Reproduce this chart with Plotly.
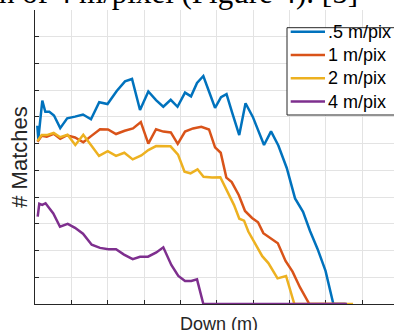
import plotly.graph_objects as go

# Data (grid units)
blue_x = [0.063, 0.091, 0.201, 0.284, 0.394, 0.523, 0.694, 0.886, 1.101, 1.321, 1.541, 1.767, 1.996,
          2.249, 2.477, 2.670, 2.890, 3.119, 3.331, 3.531, 3.735, 3.922, 4.129, 4.294, 4.459, 4.633,
          4.789, 4.955, 5.120, 5.271, 5.428, 5.621, 5.794, 5.995, 6.303, 6.496, 6.697, 6.928, 7.157,
          7.377, 7.569, 7.776, 7.996, 8.211, 8.55]
blue_y = [6.67, 6.17, 7.61, 7.19, 7.19, 7.05, 6.58, 6.95, 7.01, 7.09, 6.91, 7.55, 7.48,
          7.97, 8.33, 8.42, 7.26, 7.95, 7.63, 7.38, 7.64, 7.38, 7.91, 7.77, 8.27, 8.53,
          7.95, 7.34, 7.74, 7.85, 7.15, 6.32, 7.51, 7.00, 5.95, 6.46, 5.93, 5.09, 3.95,
          3.45, 2.73, 2.06, 1.24, 0.0, 0.0]

orange_x = [0.069, 0.184, 0.322, 0.515, 0.694, 0.873, 1.101, 1.329, 1.561, 1.789, 2.009, 2.230,
            2.469, 2.697, 2.912, 3.119, 3.331, 3.531, 3.738, 3.928, 4.129, 4.349, 4.577, 4.789,
            4.955, 5.111, 5.266, 5.414, 5.607, 5.780, 5.973, 6.138, 6.284, 6.477, 6.683, 6.895,
            7.088, 7.294, 7.550, 8.55]
orange_y = [6.07, 6.29, 6.26, 6.37, 6.18, 6.31, 6.23, 6.05, 6.30, 6.54, 6.53, 6.36,
            6.48, 6.57, 6.81, 6.00, 6.54, 6.45, 6.42, 5.99, 6.45, 6.57, 6.63, 6.53,
            5.86, 5.66, 4.73, 4.56, 4.08, 3.48, 3.22, 3.06, 2.65, 2.48, 2.27, 1.61,
            1.21, 0.62, 0.0, 0.0]

yellow_x = [0.069, 0.184, 0.322, 0.515, 0.694, 0.895, 1.109, 1.329, 1.550, 1.762, 2.001, 2.230,
            2.458, 2.689, 2.926, 3.119, 3.331, 3.531, 3.730, 3.936, 4.115, 4.280, 4.473, 4.638,
            4.872, 5.100, 5.285, 5.478, 5.623, 5.753, 5.871, 6.069, 6.254, 6.422, 6.675, 6.909,
            7.137, 8.753]
yellow_y = [6.10, 6.32, 6.32, 6.40, 6.24, 6.33, 5.95, 6.33, 5.93, 5.54, 5.72, 5.54,
            5.66, 5.41, 5.56, 5.76, 5.91, 5.91, 5.90, 5.59, 4.95, 4.89, 5.04, 4.76,
            4.73, 4.74, 4.21, 3.70, 3.19, 3.12, 2.71, 2.22, 1.79, 1.53, 0.96, 1.05,
            0.0, 0.0]

purple_x = [0.074, 0.118, 0.200, 0.290, 0.504, 0.688, 0.900, 1.101, 1.321, 1.561, 1.789, 2.018,
            2.230, 2.450, 2.689, 2.890, 3.110, 3.339, 3.531, 3.752, 3.944, 4.129, 4.302, 4.459,
            4.633, 8.588]
purple_y = [3.27, 3.75, 3.71, 3.77, 3.39, 2.89, 3.00, 2.85, 2.63, 2.22, 2.10, 2.05,
            2.05, 1.85, 1.68, 1.77, 1.77, 1.93, 2.12, 1.46, 1.05, 0.86, 0.86, 0.92,
            0.0, 0.0]

names = [".5 m/pix", "1 m/pix", "2 m/pix", "4 m/pix"]
colors = ["#0072BD", "#D95319", "#EDB120", "#7E2F8E"]
series = [(blue_x, blue_y), (orange_x, orange_y), (yellow_x, yellow_y), (purple_x, purple_y)]

W, H = 394, 330
ML, MR, MT, MB = 35, 0, 10, 26
PW, PH = W - ML - MR, H - MT - MB


def px(x):
    return (x - ML) / PW


def py(y):
    return (H - MB - y) / PH


fig = go.Figure()
for (xs, ys), n, c in zip(series, names, colors):
    fig.add_trace(go.Scatter(x=xs, y=ys, mode="lines", name=n,
                             line=dict(color=c, width=2.5), cliponaxis=False))

axis_common = dict(showgrid=True, gridcolor="#E3E3E3", gridwidth=1, zeroline=False,
                   showline=True, linecolor="#262626", linewidth=1.2,
                   ticks="inside", ticklen=4, tickcolor="#262626", tickwidth=1,
                   showticklabels=False, dtick=1, tick0=0, layer="below traces")

fig.update_layout(
    width=W, height=H,
    margin=dict(l=ML, r=MR, t=MT, b=MB),
    paper_bgcolor="white", plot_bgcolor="white",
    font=dict(family="Liberation Sans, Arial, sans-serif", size=18, color="#262626"),
    xaxis=dict(range=[0, 9.88], **axis_common),
    yaxis=dict(range=[0, 11], title=dict(text="# Matches", standoff=0), **axis_common),
    showlegend=False,
)

# x-axis title (centred on the full, cropped axes)
fig.add_annotation(text="Down (m)", xref="paper", yref="paper", x=px(219), y=py(312.5),
                   xanchor="center", yanchor="top", showarrow=False, borderpad=0,
                   font=dict(size=18, color="#262626"))

# Legend box (drawn by hand; its right edge is cropped like in the reference)
lg_left, lg_top, lg_right, lg_bottom = 287, 27.7, 402, 115
fig.add_shape(type="rect", xref="paper", yref="paper",
              x0=px(lg_left), x1=px(lg_right), y0=py(lg_bottom), y1=py(lg_top),
              line=dict(color="#262626", width=1), fillcolor="white", layer="above")
row_y = [31.7, 55.0, 78.3, 101.6]
for n, c, ry in zip(names, colors, row_y):
    fig.add_shape(type="line", xref="paper", yref="paper",
                  x0=px(290.7), x1=px(325), y0=py(ry), y1=py(ry),
                  line=dict(color=c, width=2.5), layer="above")
    fig.add_annotation(text=n, xref="paper", yref="paper", x=px(327), y=py(ry),
                       xanchor="left", yanchor="middle", showarrow=False, borderpad=0,
                       font=dict(size=18, color="black"))

# Cropped line of text from the page above the chart
fig.add_annotation(text="n of 4 m/pixel (Figure 4). [5]", xref="paper", yref="paper",
                   x=px(-2), y=py(11), xanchor="left", yanchor="bottom", showarrow=False,
                   borderpad=0, font=dict(family="Liberation Serif, Times New Roman, serif",
                                          size=31, color="black"))

fig.write_html("out.html", config={"displayModeBar": False},
               post_script="document.body.style.margin='0';")
